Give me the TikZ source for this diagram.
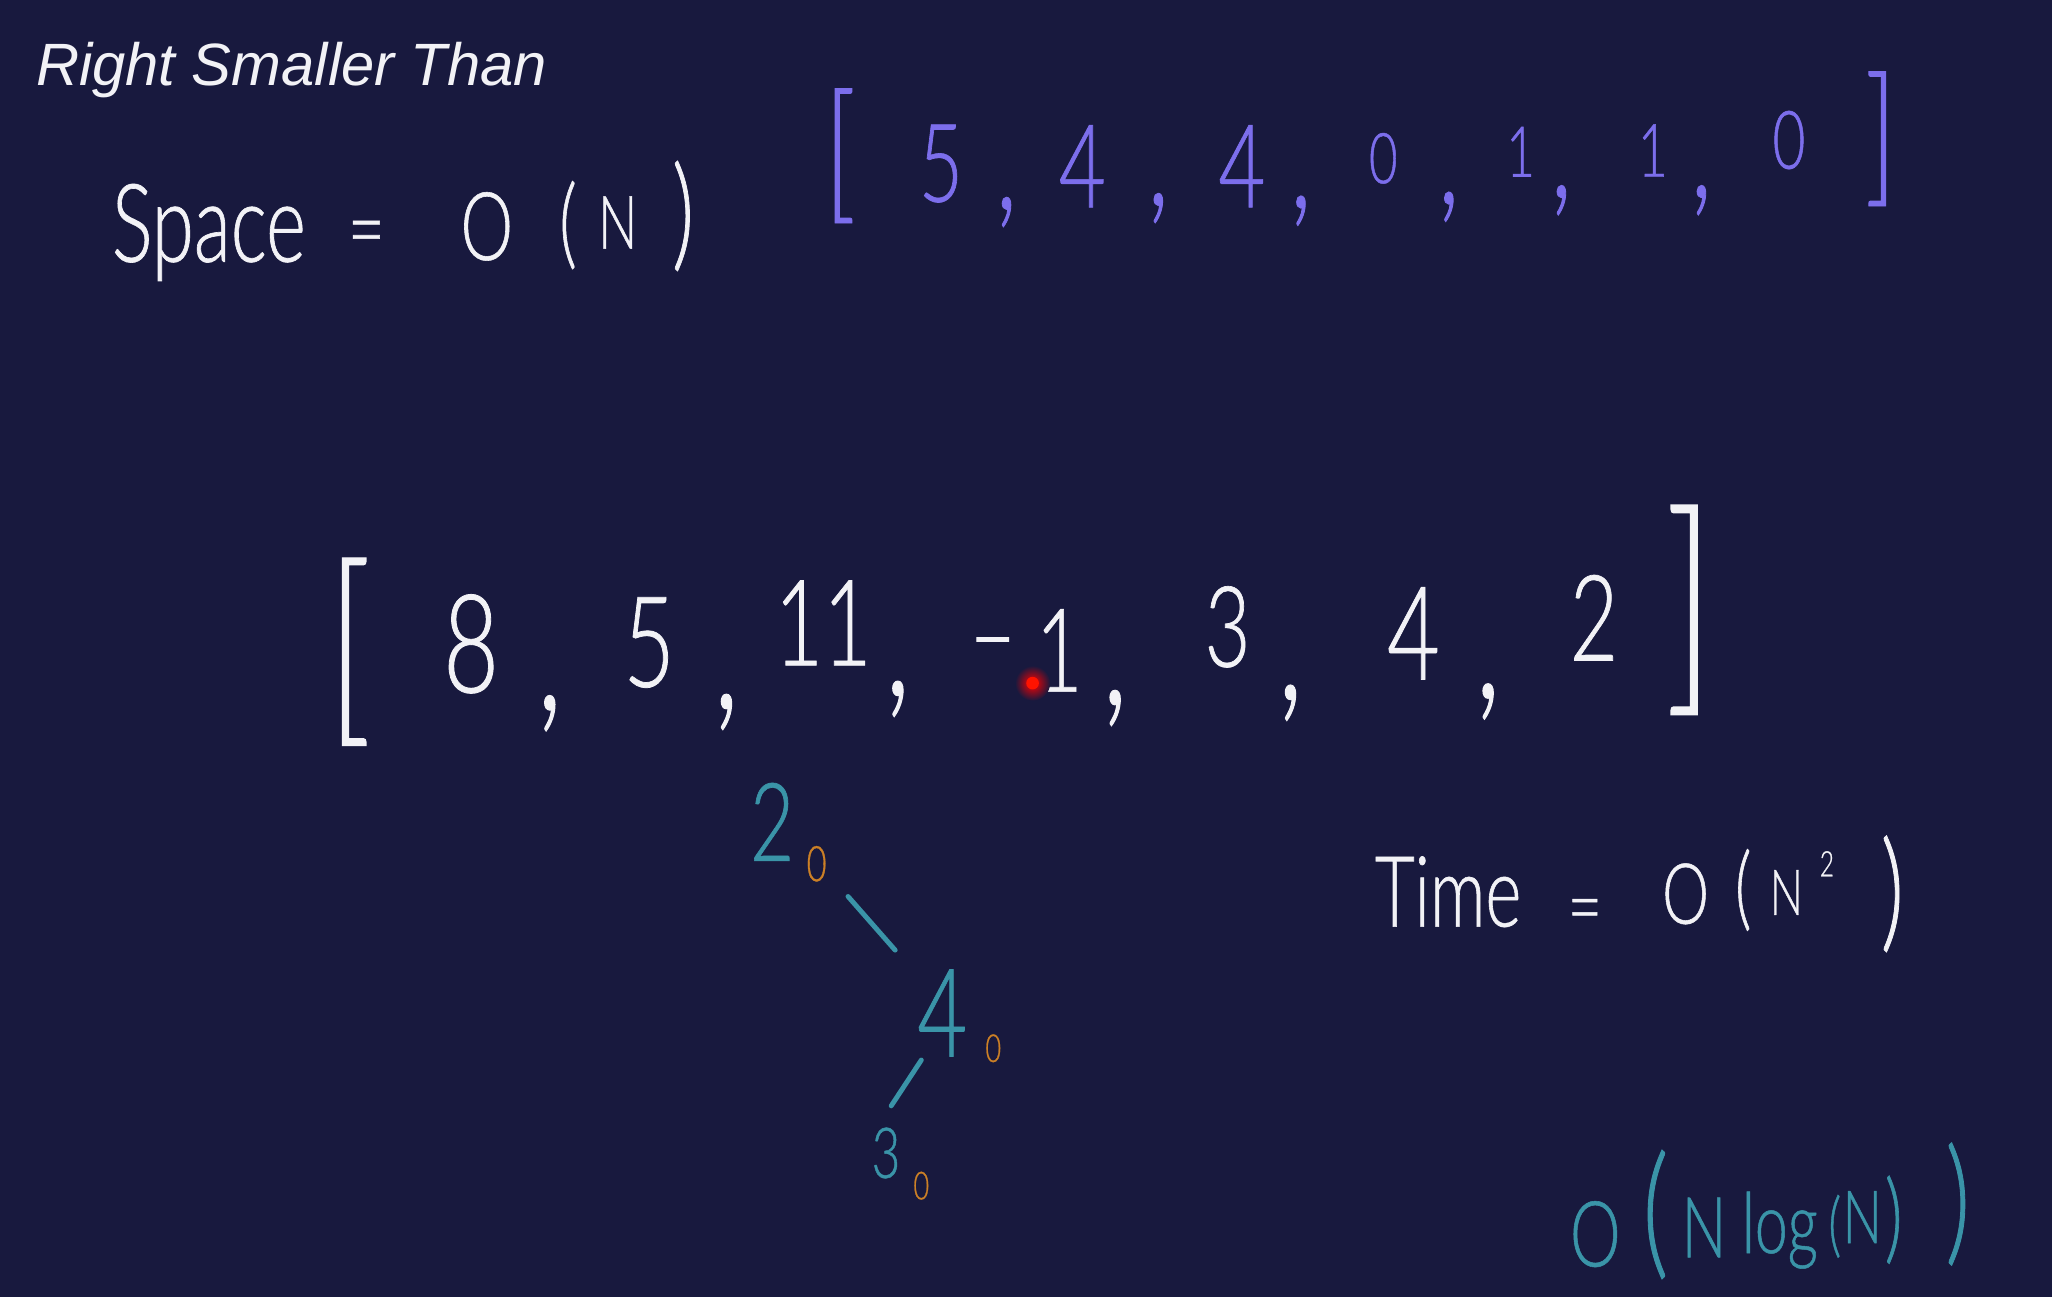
\documentclass[tikz,border=0pt]{standalone}
\usepackage{fontspec}
\setmainfont{Liberation Sans}
\newfontfamily\hand[FakeStretch=0.7, FakeBold=0.6]{Lato Light}
\usepackage{xcolor}
\usetikzlibrary{calc}

\definecolor{board}{RGB}{24,25,62}
\definecolor{chalk}{RGB}{242,242,246}
\definecolor{penviolet}{RGB}{124,110,236}
\definecolor{penteal}{RGB}{58,148,168}
\definecolor{penorange}{RGB}{204,128,38}

\begin{document}
\begin{tikzpicture}[
    x=0.013087cm, y=-0.013087cm,
    hw/.style={inner sep=0pt, font=\hand\fontsize{#1}{#1}\selectfont},
    wht/.style={hw=#1, text=chalk},
    vio/.style={hw=#1, text=penviolet},
    tea/.style={hw=#1, text=penteal},
    ora/.style={hw=#1, text=penorange},
    edge/.style={draw=penteal, line width=1.4pt, line cap=round}
]
    \fill[board] (0,0) rectangle (1568,991);

    \node[anchor=base west, inner sep=0pt, text=chalk, font=\itshape\fontsize{17}{17}\selectfont] (title) at (27,65) {Right Smaller Than};

    % Space complexity
    \node[wht=31, anchor=base west] (space) at (85,200) {Space};
    \node[wht=26] (space-eq) at (280,184) {=};
    \node[wht=27] (space-o) at (372,173) {O};
    \node[wht=28] (space-lp) at (434,172) {(};
    \node[wht=21] (space-n) at (472,170) {N};
    \node[wht=35] (space-rp) at (522,165) {)};

    % Result counts
    \node[vio=43] (cnt-l) at (642,119) {[};
    \foreach \v/\x/\y/\s [count=\i] in {5/719/125/31, 4/827/127/33, 4/949/127/33, 0/1057/121/20, 1/1162/116/20, 1/1263/115/21, 0/1367/107/23}
        \node[vio=\s] (cnt-\i) at (\x,\y) {\v};
    \foreach \x/\y [count=\i] in {769/162, 885/159, 994/161, 1107/158, 1193/153, 1300/153}
        \node[vio=40] (cnt-c\i) at (\x,\y) {,};
    \node[vio=43] (cnt-r) at (1437,106) {]};

    % Input array
    \node[wht=60] (arr-l) at (267,498) {[};
    \foreach \v/\x/\y/\s [count=\i] in {8/360/492/39, 5/496/491/36, 11/629/476/34, {\raisebox{.16em}{\textendash}\,1}/784/497/33, 3/938/479/32, 4/1080/484/37, 2/1218/472/34}
        \node[wht=\s] (num-\i) at (\x,\y) {\v};
    \foreach \x/\y [count=\i] in {420/545, 555/544, 686/534, 852/541, 986/537, 1137/536}
        \node[wht=48] (num-c\i) at (\x,\y) {,};
    \node[wht=67] (arr-r) at (1291,466) {]};

    % Laser pointer
    \shade[inner color=red, outer color=board] (789,522) circle (5pt);
    \fill[red!85!orange] (789,522) circle (1.8pt);

    % Time complexity
    \node[wht=28, anchor=base west] (time) at (1050,708) {Time};
    \node[wht=24] (time-eq) at (1211,701) {=};
    \node[wht=24] (time-o) at (1288,683) {O};
    \node[wht=26] (time-lp) at (1332,680) {(};
    \node[wht=18] (time-n) at (1365,682) {N};
    \node[wht=10] (time-sq) at (1396,660) {2};
    \node[wht=37] (time-rp) at (1446,683) {)};

    % Tree
    \node[tea=31] (t2) at (590,628) {2};
    \node[ora=14] (t2-cnt) at (624,660) {0};
    \node[tea=35] (t4) at (720,774) {4};
    \node[ora=11] (t4-cnt) at (759,801) {0};
    \node[tea=20] (t3) at (677,881) {3};
    \node[ora=11] (t3-cnt) at (704,906) {0};
    \draw[edge] ($(t2)+(58,57)$) -- ($(t4)+(-36,-48)$);
    \draw[edge] ($(t4)+(-16,36)$) -- ($(t3)+(4,-36)$);

    % Better bound
    \node[tea=26] (nlog-o) at (1219,943) {O};
    \node[tea=41] (nlog-lp) at (1265,928) {(};
    \node[tea=24] (nlog-n) at (1302,938) {N};
    \node[tea=24] (nlog-log) at (1360,940) {log};
    \node[tea=20] (nlog-lp2) at (1402,937) {(};
    \node[tea=21] (nlog-n2) at (1423,930) {N};
    \node[tea=28] (nlog-rp2) at (1447,932) {)};
    \node[tea=39] (nlog-rp) at (1496,920) {)};
\end{tikzpicture}
\end{document}
